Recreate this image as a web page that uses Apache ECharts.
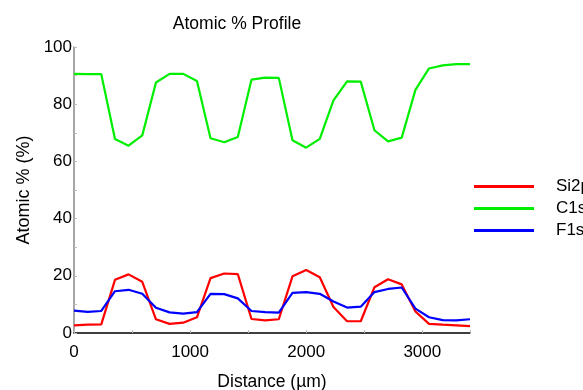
<!DOCTYPE html>
<html>
<head>
<meta charset="utf-8">
<script src="https://cdn.jsdelivr.net/npm/echarts@6/dist/echarts.min.js"></script>
<style>
html,body{margin:0;padding:0;background:#fff;}
#c{width:583px;height:390px;}
</style>
</head>
<body>
<div id="c"></div>
<script>
var distance = [0, 118, 235, 353, 470, 588, 706, 823, 941, 1059, 1176, 1294, 1411, 1529, 1647, 1764, 1882, 2000, 2117, 2235, 2352, 2470, 2588, 2705, 2823, 2941, 3058, 3176, 3293, 3411];
var si2p = [2.7, 2.9, 3.0, 18.6, 20.5, 17.9, 4.8, 3.2, 3.6, 5.5, 19.2, 20.8, 20.6, 4.9, 4.4, 4.8, 19.8, 22.0, 19.5, 9.1, 4.1, 4.1, 16.0, 18.8, 17.0, 7.5, 3.2, 2.9, 2.7, 2.4];
var c1s = [90.6, 90.5, 90.5, 67.8, 65.5, 69.1, 87.6, 90.6, 90.6, 88.1, 68.1, 66.7, 68.5, 88.6, 89.3, 89.2, 67.4, 64.8, 67.9, 81.3, 88.0, 87.9, 70.9, 67.0, 68.3, 85.0, 92.5, 93.6, 94.0, 94.0];
var f1s = [7.8, 7.4, 7.7, 14.6, 15.1, 13.7, 8.8, 7.2, 6.8, 7.3, 13.7, 13.6, 12.1, 7.7, 7.3, 7.1, 14.0, 14.3, 13.7, 11.0, 8.9, 9.2, 14.3, 15.4, 15.9, 8.5, 5.5, 4.5, 4.4, 4.8];
var seriesNames = ['Si2p', 'C1s', 'F1s'];
var seriesColors = ['#ff0000', '#00ee00', '#0000ff'];
var xTicks = [0, 1000, 2000, 3000];
var yTicks = [0, 20, 40, 60, 80, 100];

function pairs(ys) { return distance.map(function (x, i) { return [x, ys[i]]; }); }
var font = 'Liberation Sans, Arial, Helvetica, sans-serif';
var chart = echarts.init(document.getElementById('c'), null, {renderer: 'canvas'});
var values = [si2p, c1s, f1s];
chart.setOption({
  animation: false,
  backgroundColor: '#fff',
  title: {
    text: 'Atomic % Profile', left: 237, top: 15, textAlign: 'center', padding: 0,
    textStyle: {fontFamily: font, fontSize: 17.5, fontWeight: 'normal', color: '#000'}
  },
  legend: {
    orient: 'vertical', left: 474, top: 178, padding: 0,
    itemWidth: 60, itemHeight: 3, itemGap: 5,
    icon: 'rect',
    textStyle: {fontFamily: font, fontSize: 17, color: '#000', padding: [0, 0, 0, 17], lineHeight: 16},
    data: seriesNames
  },
  grid: {left: 74, right: 113, top: 47, bottom: 57, containLabel: false, outerBoundsMode: 'none'},
  xAxis: {
    type: 'value', min: 0, max: 3411, interval: 1000,
    name: 'Distance (µm)', nameLocation: 'middle', nameGap: 40,
    nameTextStyle: {fontFamily: font, fontSize: 17.5, color: '#000'},
    axisLine: {lineStyle: {color: '#000', width: 1.5}},
    axisTick: {inside: true, length: 3, lineStyle: {color: '#bbb'}},
    minorTick: {show: true, splitNumber: 2, length: 3, lineStyle: {color: '#bbb'}},
    axisLabel: {fontFamily: font, fontSize: 17, color: '#000', margin: 11,
      showMaxLabel: false,
      formatter: function (v) { return xTicks.indexOf(v) >= 0 ? String(v) : ''; }},
    splitLine: {show: false}
  },
  yAxis: {
    type: 'value', min: 0, max: 100, interval: 20,
    name: 'Atomic % (%)', nameLocation: 'middle', nameGap: 40, nameRotate: 90,
    nameTextStyle: {fontFamily: font, fontSize: 18, color: '#000'},
    axisLine: {show: true, lineStyle: {color: '#888', width: 1.5}},
    axisTick: {inside: true, length: 3, lineStyle: {color: '#bbb'}},
    minorTick: {show: true, splitNumber: 2, length: 3, lineStyle: {color: '#bbb'}},
    axisLabel: {fontFamily: font, fontSize: 17, color: '#000', margin: 2,
      formatter: function (v) { return yTicks.indexOf(v) >= 0 ? String(v) : ''; }},
    splitLine: {show: false}
  },
  series: seriesNames.map(function (n, k) {
    return {
      name: n, type: 'line', data: pairs(values[k]),
      showSymbol: false, symbol: 'none',
      color: seriesColors[k],
      lineStyle: {color: seriesColors[k], width: 2.2},
      z: k === 0 ? 2 : (k === 1 ? 3 : 4)
    };
  })
});
</script>
</body>
</html>
